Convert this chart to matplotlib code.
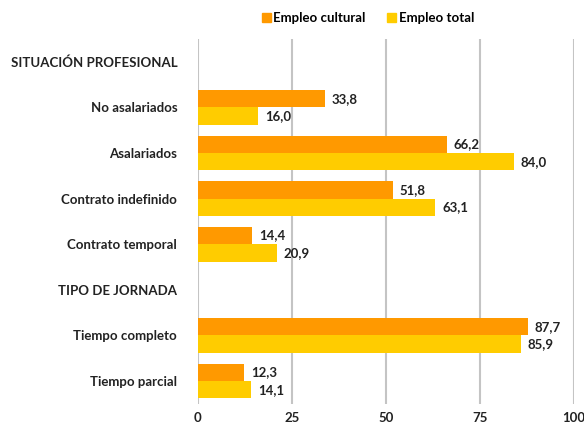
import matplotlib.pyplot as plt
from matplotlib.patches import Patch
import numpy as np

plt.rcParams['font.family'] = ['Lato', 'DejaVu Sans']

categories = ["SITUACIÓN PROFESIONAL", "No asalariados", "Asalariados",
              "Contrato indefinido", "Contrato temporal", "TIPO DE JORNADA",
              "Tiempo completo", "Tiempo parcial"]
cultural = [None, 33.8, 66.2, 51.8, 14.4, None, 87.7, 12.3]
total = [None, 16.0, 84.0, 63.1, 20.9, None, 85.9, 14.1]
series_names = ["Empleo cultural", "Empleo total"]
xticks = [0, 25, 50, 75, 100]

c_cult = "#FF9900"
c_tot = "#FFCC00"
txt = "#222222"
fs = 9.5

fig = plt.figure(figsize=(5.84, 4.25), dpi=100)
ax = fig.add_axes([0.339, 0.050, 0.644, 0.858])

y = np.arange(len(categories))
h = 0.38
for i, (c, t) in enumerate(zip(cultural, total)):
    if c is None:
        continue
    ax.barh(y[i] - h / 2, c, height=h, color=c_cult, zorder=3)
    ax.barh(y[i] + h / 2, t, height=h, color=c_tot, zorder=3)
    ax.annotate(f"{c:.1f}".replace(".", ","), (c, y[i] - h / 2), xytext=(5, 0),
                textcoords="offset points", va="center", ha="left",
                fontsize=fs, fontweight="bold", color=txt)
    ax.annotate(f"{t:.1f}".replace(".", ","), (t, y[i] + h / 2), xytext=(5, 0),
                textcoords="offset points", va="center", ha="left",
                fontsize=fs, fontweight="bold", color=txt)

ax.set_ylim(len(categories) - 0.5, -0.5)
ax.set_xlim(0, 100)
ax.set_yticks(y)
ax.set_yticklabels(categories, fontsize=fs, fontweight="bold", color=txt)
ax.set_xticks(xticks)
ax.set_xticklabels([str(v) for v in xticks], fontsize=fs, fontweight="bold", color=txt)
ax.tick_params(axis="both", length=0)
ax.tick_params(axis="y", pad=15)
ax.tick_params(axis="x", pad=6)

for s in ax.spines.values():
    s.set_visible(False)
ax.grid(axis="x", color="#C4C4C4", linewidth=1.5, zorder=0)
ax.set_axisbelow(True)

handles = [Patch(color=c_cult), Patch(color=c_tot)]
fig.legend(handles, series_names, loc="upper center", bbox_to_anchor=(0.63, 1.0),
           ncol=2, frameon=False, handlelength=0.7, handleheight=0.7,
           handletextpad=0.2, columnspacing=1.6,
           prop={"size": fs, "weight": "bold"})

plt.savefig("out.png", dpi=100)
plt.close()
